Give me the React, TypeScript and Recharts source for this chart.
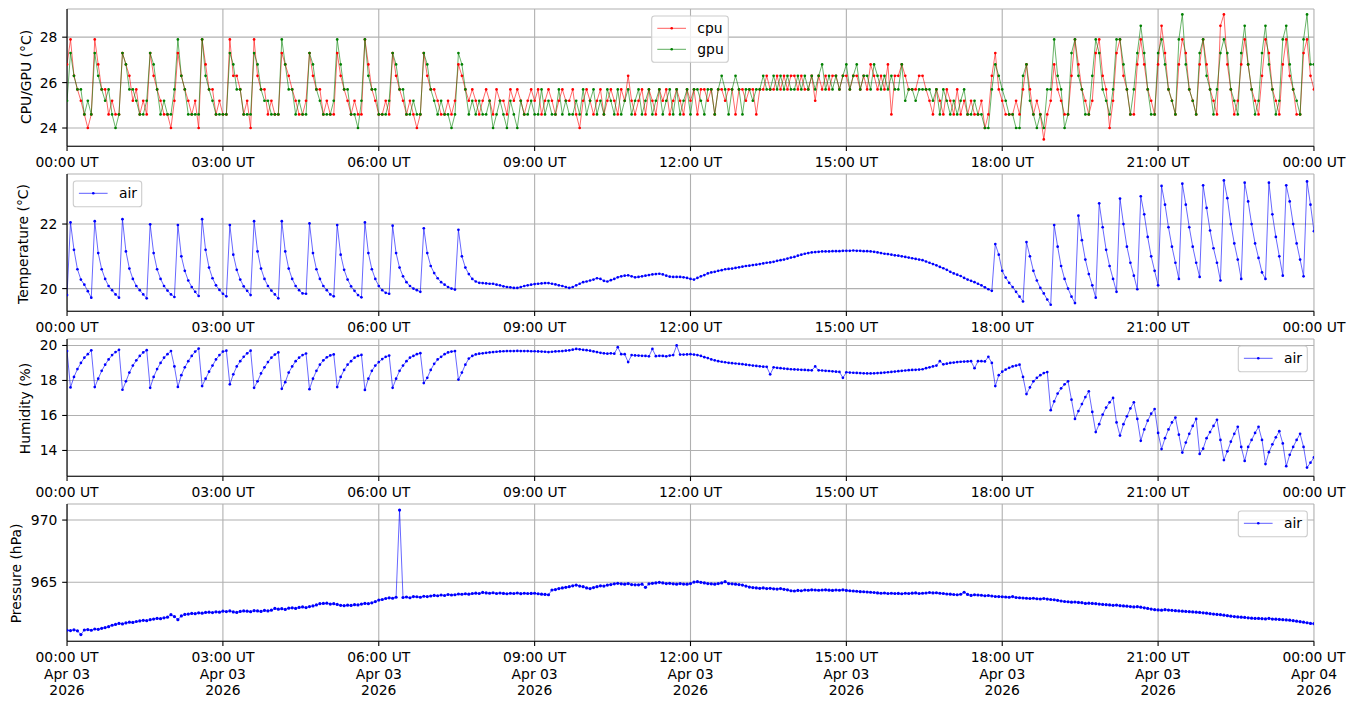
import React from 'react';
import { LineChart, Line, XAxis, YAxis, CartesianGrid } from 'recharts';

const FONT = '"DejaVu Sans", sans-serif';
const FS = 13.9;

// sampling interval of the series (minutes after 00:00 UT, Apr 03 2026)
const STEP_MIN = 4;

const X_TICKS = [0, 180, 360, 540, 720, 900, 1080, 1260, 1440];
const TIME_LABELS = ['00:00 UT', '03:00 UT', '06:00 UT', '09:00 UT', '12:00 UT', '15:00 UT', '18:00 UT', '21:00 UT', '00:00 UT'];
const DATE_LABELS = ['Apr 03', 'Apr 03', 'Apr 03', 'Apr 03', 'Apr 03', 'Apr 03', 'Apr 03', 'Apr 03', 'Apr 04'];
const YEAR_LABELS = ['2026', '2026', '2026', '2026', '2026', '2026', '2026', '2026', '2026'];

const CPU = [
  26.8, 27.9, 26.3, 25.7, 25.2, 24.6, 24.0, 24.6, 27.9, 26.8, 25.7, 25.7, 24.6, 25.2, 24.6,
  24.6, 27.3, 26.8, 26.3, 25.2, 25.7, 24.6, 25.2, 24.6, 27.3, 26.3, 25.7, 25.2, 24.6, 24.6,
  24.0, 25.2, 27.3, 26.3, 25.7, 25.2, 24.6, 25.2, 24.0, 27.9, 26.8, 25.7, 25.7, 24.6, 25.2,
  24.6, 24.6, 27.9, 26.3, 26.3, 25.7, 24.6, 25.2, 24.0, 27.9, 26.3, 25.7, 25.7, 24.6, 25.2,
  24.6, 24.6, 27.3, 26.8, 26.3, 25.7, 25.2, 24.6, 24.6, 25.2, 27.3, 26.3, 25.7, 25.7, 24.6,
  25.2, 24.6, 24.6, 27.3, 26.3, 25.7, 25.2, 24.6, 25.2, 24.6, 24.6, 27.9, 26.8, 25.7, 25.2,
  24.6, 24.6, 25.2, 24.6, 27.3, 26.3, 25.7, 25.2, 24.6, 25.2, 24.6, 24.0, 24.6, 27.3, 26.3,
  25.7, 25.7, 25.2, 24.6, 24.6, 25.2, 24.6, 25.2, 26.8, 26.3, 25.7, 25.2, 25.7, 25.2, 24.6,
  25.2, 25.7, 25.2, 24.6, 25.7, 25.2, 25.2, 24.6, 25.7, 25.2, 25.7, 25.2, 24.6, 25.2, 25.7,
  25.2, 25.7, 24.6, 25.2, 25.7, 25.2, 24.6, 25.2, 25.7, 25.2, 25.2, 25.7, 24.6, 24.0, 25.2,
  25.7, 25.2, 24.6, 25.2, 25.7, 24.6, 25.2, 25.7, 25.2, 24.6, 25.7, 25.2, 26.3, 25.2, 24.6,
  25.2, 25.7, 24.6, 25.7, 25.2, 24.6, 25.7, 25.2, 25.7, 24.6, 25.2, 25.7, 25.2, 24.6, 25.7,
  25.2, 25.7, 24.6, 25.7, 25.7, 25.2, 25.7, 24.6, 25.7, 25.7, 25.2, 25.7, 25.7, 24.6, 25.7,
  25.7, 25.2, 25.7, 25.7, 24.6, 25.7, 25.7, 26.3, 25.7, 25.7, 26.3, 25.7, 26.3, 25.7, 26.3,
  26.3, 25.7, 26.3, 25.7, 25.7, 26.3, 25.2, 26.3, 25.7, 26.3, 25.7, 26.3, 26.3, 25.7, 26.3,
  26.3, 25.7, 26.3, 26.3, 25.7, 26.3, 25.7, 26.8, 26.3, 25.7, 26.3, 25.7, 26.8, 24.6, 26.3,
  26.3, 26.8, 26.3, 25.7, 25.7, 25.7, 26.3, 26.3, 25.7, 25.2, 24.6, 25.7, 25.2, 24.6, 25.7,
  25.2, 24.6, 25.7, 24.6, 25.2, 24.6, 25.2, 24.6, 24.6, 25.2, 24.0, 24.6, 26.3, 27.3, 25.7,
  25.2, 24.6, 24.6, 24.6, 25.2, 24.6, 25.7, 26.8, 25.7, 24.6, 25.2, 24.6, 23.5, 24.6, 25.2,
  26.8, 25.7, 25.2, 24.6, 24.6, 26.3, 27.9, 26.8, 25.7, 25.2, 24.6, 25.2, 27.3, 27.9, 26.3,
  25.7, 24.0, 25.2, 27.3, 27.9, 26.3, 25.7, 24.6, 24.6, 26.8, 27.9, 26.8, 25.7, 25.2, 24.6,
  26.8, 28.5, 27.3, 25.7, 25.2, 24.6, 26.8, 27.9, 27.3, 25.7, 25.2, 24.6, 26.8, 27.9, 26.8,
  25.7, 25.2, 24.6, 28.5, 29.0, 26.8, 25.7, 24.6, 25.2, 26.8, 27.9, 26.8, 25.7, 25.2, 24.6,
  26.3, 27.9, 27.3, 25.7, 25.2, 24.6, 26.8, 27.9, 26.3, 25.7, 24.6, 24.6, 27.3, 27.9, 26.3,
  25.7,
];

const GPU = [
  25.2, 27.3, 26.3, 25.7, 25.7, 24.6, 25.2, 24.6, 27.3, 26.3, 25.7, 25.2, 25.7, 24.6, 24.0,
  24.6, 27.3, 26.8, 25.7, 25.7, 25.2, 24.6, 24.6, 25.2, 27.3, 26.8, 25.7, 24.6, 25.2, 24.6,
  24.6, 25.7, 27.9, 26.3, 25.7, 24.6, 24.6, 24.6, 24.6, 27.9, 26.3, 25.7, 25.2, 24.6, 24.6,
  24.6, 24.6, 27.3, 26.8, 25.7, 25.7, 24.6, 24.6, 24.6, 27.3, 26.8, 25.7, 25.2, 25.2, 24.6,
  24.6, 24.6, 27.9, 26.8, 25.7, 25.7, 24.6, 25.2, 24.6, 24.6, 27.3, 26.8, 25.7, 25.2, 24.6,
  24.6, 24.6, 25.2, 27.9, 26.8, 25.7, 25.7, 24.6, 24.6, 24.0, 25.2, 27.9, 26.3, 25.7, 25.7,
  24.6, 24.6, 24.6, 25.2, 27.3, 26.8, 25.7, 25.7, 24.6, 24.6, 25.2, 24.6, 24.6, 27.3, 26.8,
  25.7, 25.2, 24.6, 25.2, 24.6, 24.6, 24.0, 24.6, 27.3, 26.8, 25.7, 24.6, 25.2, 24.6, 25.2,
  24.6, 24.6, 25.2, 24.0, 24.6, 25.2, 24.6, 24.0, 25.2, 24.6, 24.0, 25.2, 24.6, 24.6, 25.2,
  24.6, 24.6, 25.7, 24.6, 25.2, 24.6, 24.6, 25.7, 24.6, 25.2, 24.6, 24.6, 25.2, 24.6, 25.7,
  24.6, 25.2, 25.7, 24.6, 25.2, 24.6, 25.7, 25.2, 24.6, 25.7, 24.6, 25.2, 25.7, 24.6, 25.2,
  25.7, 24.6, 25.2, 25.7, 24.6, 25.2, 25.7, 24.6, 25.2, 25.7, 24.6, 25.7, 24.6, 25.2, 25.7,
  24.6, 25.7, 25.7, 25.2, 24.6, 25.7, 25.7, 24.6, 25.7, 26.3, 25.7, 24.6, 25.7, 26.3, 25.7,
  24.6, 25.7, 25.7, 25.2, 25.7, 25.7, 26.3, 25.7, 25.7, 26.3, 25.7, 26.3, 25.7, 26.3, 25.7,
  25.7, 26.3, 25.7, 26.3, 25.7, 26.3, 25.7, 26.3, 26.8, 25.7, 26.3, 25.7, 26.3, 25.7, 26.3,
  26.8, 25.7, 26.3, 26.8, 25.7, 26.3, 26.3, 25.7, 26.8, 26.3, 25.7, 26.3, 25.7, 26.3, 25.7,
  25.7, 26.8, 25.2, 25.7, 25.7, 25.2, 25.7, 25.7, 25.7, 25.7, 25.2, 25.7, 24.6, 25.7, 25.2,
  24.6, 25.2, 24.6, 25.2, 25.7, 24.6, 24.6, 25.2, 24.6, 24.6, 24.0, 24.0, 25.7, 26.8, 26.3,
  25.7, 25.2, 24.6, 24.6, 24.0, 24.0, 26.3, 26.8, 25.2, 24.6, 24.0, 24.6, 24.0, 25.7, 25.7,
  27.9, 26.3, 25.7, 24.0, 24.6, 27.3, 27.9, 26.3, 25.7, 24.6, 24.6, 26.3, 27.9, 27.3, 25.7,
  25.2, 24.6, 25.7, 27.9, 27.9, 26.8, 25.7, 24.6, 25.7, 27.3, 28.5, 27.3, 25.7, 24.6, 24.6,
  27.3, 27.9, 26.8, 25.7, 25.2, 24.6, 27.9, 29.0, 26.8, 25.7, 25.2, 24.6, 27.3, 27.9, 26.3,
  25.7, 24.6, 25.7, 27.3, 27.9, 27.3, 25.7, 25.2, 24.6, 27.3, 28.5, 26.8, 25.7, 24.6, 25.2,
  27.3, 28.5, 26.8, 25.7, 24.6, 25.2, 27.9, 28.5, 26.8, 25.7, 25.2, 24.6, 27.9, 29.0, 26.8,
  26.8,
];

const AIR_TEMP = [
  19.8, 22.05, 21.2, 20.6, 20.28, 20.12, 19.92, 19.72, 22.09, 21.1, 20.6, 20.3, 20.08, 19.95, 19.82,
  19.72, 22.15, 21.15, 20.62, 20.3, 20.08, 19.95, 19.82, 19.7, 21.99, 21.1, 20.6, 20.3, 20.08, 19.94,
  19.82, 19.74, 21.97, 21.0, 20.55, 20.25, 20.05, 19.9, 19.77, 22.15, 21.2, 20.65, 20.32, 20.1, 19.96,
  19.84, 19.76, 21.97, 21.05, 20.58, 20.28, 20.07, 19.93, 19.8, 22.09, 21.15, 20.62, 20.3, 20.08, 19.94,
  19.82, 19.7, 22.09, 21.15, 20.62, 20.3, 20.08, 19.95, 19.85, 19.84, 22.02, 21.1, 20.6, 20.3, 20.08,
  19.95, 19.82, 19.76, 21.97, 21.05, 20.58, 20.28, 20.07, 19.93, 19.8, 19.73, 22.05, 21.1, 20.6, 20.3,
  20.08, 19.95, 19.87, 19.84, 21.95, 21.1, 20.65, 20.38, 20.2, 20.08, 20.0, 19.95, 19.9, 21.87, 21.1,
  20.7, 20.48, 20.32, 20.2, 20.12, 20.05, 20.0, 19.97, 21.82, 21.0, 20.65, 20.45, 20.3, 20.22, 20.18,
  20.17, 20.16, 20.15, 20.15, 20.12, 20.1, 20.07, 20.05, 20.04, 20.02, 20.02, 20.05, 20.08, 20.1, 20.12,
  20.14, 20.15, 20.16, 20.17, 20.17, 20.15, 20.13, 20.1, 20.08, 20.05, 20.02, 20.05, 20.1, 20.15, 20.2,
  20.22, 20.25, 20.28, 20.32, 20.3, 20.24, 20.22, 20.26, 20.3, 20.35, 20.38, 20.4, 20.41, 20.38, 20.35,
  20.36, 20.38, 20.4, 20.42, 20.44, 20.45, 20.46, 20.44, 20.4, 20.37, 20.36, 20.36, 20.36, 20.35, 20.33,
  20.3, 20.28, 20.33, 20.38, 20.42, 20.47, 20.5, 20.52, 20.55, 20.57, 20.6, 20.61, 20.62, 20.64, 20.66,
  20.68, 20.7, 20.71, 20.73, 20.74, 20.76, 20.78, 20.8, 20.81, 20.83, 20.86, 20.88, 20.9, 20.93, 20.96,
  20.98, 21.02, 21.05, 21.08, 21.1, 21.12, 21.13, 21.14, 21.15, 21.15, 21.15, 21.16, 21.16, 21.16, 21.17,
  21.17, 21.17, 21.18, 21.17, 21.17, 21.16, 21.16, 21.15, 21.14, 21.12, 21.1, 21.08, 21.07, 21.05, 21.03,
  21.02, 21.0, 20.98, 20.96, 20.94, 20.92, 20.9, 20.88, 20.84, 20.8, 20.76, 20.72, 20.67, 20.63, 20.58,
  20.52, 20.47, 20.43, 20.39, 20.33, 20.28, 20.24, 20.2, 20.15, 20.1, 20.04, 19.98, 19.93, 21.38, 21.05,
  20.55, 20.34, 20.18, 20.05, 19.9, 19.75, 19.6, 21.44, 21.0, 20.55, 20.25, 20.02, 19.85, 19.66, 19.5,
  21.97, 21.3, 20.7, 20.3, 20.0, 19.75, 19.55, 22.26, 21.5, 20.9, 20.45, 20.1, 19.72, 22.64, 21.9,
  21.2, 20.7, 20.3, 19.9, 22.79, 22.0, 21.3, 20.8, 20.4, 19.98, 22.86, 22.3, 21.6, 21.0, 20.55,
  20.1, 23.18, 22.6, 21.9, 21.3, 20.8, 20.3, 23.25, 22.6, 21.9, 21.3, 20.8, 20.36, 23.2, 22.5,
  21.8, 21.25, 20.8, 20.25, 23.35, 22.8, 22.0, 21.4, 20.9, 20.3, 23.28, 22.7, 22.0, 21.4, 20.95,
  20.5, 20.3, 23.28, 22.3, 21.6, 21.0, 20.4, 23.2, 22.7, 22.0, 21.4, 20.9, 20.38, 23.32, 22.6,
  21.78,
];

const AIR_HUM = [
  19.68, 17.6, 18.2, 18.65, 19.0, 19.3, 19.5, 19.72, 17.62, 18.1, 18.55, 18.9, 19.2, 19.45, 19.62,
  19.75, 17.47, 17.95, 18.45, 18.85, 19.15, 19.4, 19.6, 19.73, 17.58, 18.2, 18.65, 19.0, 19.3, 19.5,
  19.68, 18.8, 17.63, 18.3, 18.75, 19.1, 19.4, 19.65, 19.82, 17.68, 18.1, 18.5, 18.85, 19.2, 19.45,
  19.65, 19.7, 17.78, 18.35, 18.8, 19.1, 19.35, 19.55, 19.7, 17.58, 17.95, 18.4, 18.75, 19.05, 19.3,
  19.48, 19.6, 17.52, 17.9, 18.45, 18.8, 19.1, 19.3, 19.45, 19.54, 17.5, 18.1, 18.55, 18.9, 19.15,
  19.32, 19.43, 19.49, 17.62, 18.2, 18.6, 18.9, 19.1, 19.3, 19.4, 19.46, 17.46, 18.1, 18.55, 18.85,
  19.05, 19.22, 19.35, 19.42, 17.58, 18.1, 18.55, 18.85, 19.1, 19.3, 19.4, 19.5, 19.56, 17.85, 18.15,
  18.6, 18.95, 19.2, 19.35, 19.5, 19.6, 19.65, 19.68, 18.05, 18.45, 18.9, 19.25, 19.4, 19.49, 19.53,
  19.55, 19.58, 19.6, 19.62, 19.64, 19.66, 19.67, 19.68, 19.68, 19.68, 19.69, 19.68, 19.68, 19.68, 19.67,
  19.67, 19.66, 19.65, 19.64, 19.62, 19.64, 19.66, 19.67, 19.68, 19.7, 19.72, 19.76, 19.8, 19.78, 19.75,
  19.73, 19.7, 19.66, 19.62, 19.58, 19.55, 19.53, 19.55, 19.53, 19.9, 19.5, 19.5, 19.05, 19.45, 19.43,
  19.42, 19.41, 19.4, 19.38, 19.8, 19.39, 19.41, 19.4, 19.38, 19.42, 19.45, 20.0, 19.48, 19.48, 19.49,
  19.5, 19.48, 19.45, 19.4, 19.33, 19.28, 19.2, 19.15, 19.1, 19.07, 19.04, 19.01, 18.99, 18.97, 18.95,
  18.93, 18.9, 18.88, 18.85, 18.83, 18.81, 18.79, 18.78, 18.35, 18.75, 18.72, 18.7, 18.68, 18.66, 18.64,
  18.63, 18.62, 18.61, 18.6, 18.59, 18.58, 18.8, 18.58, 18.57, 18.55, 18.54, 18.52, 18.5, 18.49, 18.15,
  18.47, 18.45, 18.44, 18.43, 18.42, 18.41, 18.4, 18.4, 18.41, 18.42, 18.43, 18.45, 18.47, 18.49, 18.51,
  18.53, 18.55, 18.57, 18.59, 18.6, 18.61, 18.62, 18.64, 18.7, 18.75, 18.8, 18.85, 19.1, 18.92, 18.96,
  19.0, 19.02, 19.05, 19.07, 19.08, 19.09, 19.1, 18.7, 19.1, 19.1, 19.09, 19.35, 19.0, 17.68, 18.3,
  18.5, 18.62, 18.72, 18.8, 18.85, 18.9, 18.2, 17.22, 17.6, 17.95, 18.15, 18.3, 18.42, 18.48, 16.3,
  16.8, 17.25, 17.55, 17.78, 17.95, 16.9, 15.8, 16.25, 16.65, 17.05, 17.38, 16.2, 15.05, 15.5, 16.05,
  16.45, 16.75, 17.0, 15.6, 14.85, 15.5, 15.95, 16.4, 16.75, 15.8, 14.55, 15.2, 15.7, 16.1, 16.37,
  15.0, 14.08, 14.7, 15.2, 15.6, 15.88, 14.9, 13.88, 14.45, 14.95, 15.4, 15.8, 13.8, 14.1, 14.7,
  15.05, 15.4, 15.75, 14.6, 13.45, 13.95, 14.5, 14.95, 15.35, 14.2, 13.4, 14.2, 14.6, 15.0, 15.35,
  14.6, 13.22, 13.9, 14.35, 14.75, 15.1, 14.4, 13.1, 13.75, 14.2, 14.6, 14.95, 14.2, 13.02, 13.3,
  13.6,
];

const AIR_PRES = [
  961.15, 961.12, 961.18, 961.1, 960.8, 961.17, 961.2, 961.15, 961.25, 961.22, 961.3, 961.36, 961.44, 961.55, 961.62,
  961.7, 961.66, 961.74, 961.8, 961.78, 961.85, 961.9, 961.95, 961.92, 962.0, 962.05, 962.1, 962.08, 962.15, 962.2,
  962.4, 962.25, 962.0, 962.3, 962.42, 962.45, 962.5, 962.48, 962.55, 962.52, 962.58, 962.6, 962.57, 962.63, 962.6,
  962.68, 962.65, 962.7, 962.62, 962.58, 962.66, 962.7, 962.68, 962.64, 962.72, 962.7, 962.66, 962.74, 962.7, 962.76,
  962.9, 962.84, 962.88, 962.82, 962.92, 962.95, 962.9, 962.98, 963.02, 962.97, 963.05, 963.1, 963.18, 963.28, 963.3,
  963.32, 963.25, 963.28, 963.22, 963.15, 963.12, 963.16, 963.14, 963.2, 963.18, 963.25, 963.3, 963.28, 963.35, 963.45,
  963.57, 963.62, 963.7, 963.75, 963.72, 963.8, 970.8, 963.78, 963.82, 963.76, 963.85, 963.84, 963.8, 963.88, 963.85,
  963.9, 963.95, 963.92, 963.98, 963.94, 964.02, 963.98, 964.0, 964.06, 964.04, 964.08, 964.05, 964.1, 964.13, 964.1,
  964.19, 964.15, 964.12, 964.16, 964.1, 964.14, 964.11, 964.08, 964.12, 964.1, 964.14, 964.09, 964.12, 964.1, 964.11,
  964.12, 964.08, 964.05, 964.03, 964.0, 964.38, 964.42, 964.5, 964.55, 964.6, 964.65, 964.72, 964.78, 964.7, 964.65,
  964.55, 964.5, 964.58, 964.65, 964.72, 964.7, 964.78, 964.82, 964.88, 964.92, 964.88, 964.85, 964.9, 964.82, 964.8,
  964.8, 964.85, 964.6, 964.88, 964.92, 964.95, 965.0, 964.95, 964.9, 964.92, 964.88, 964.85, 964.9, 964.86, 964.85,
  964.9, 965.02, 965.05, 965.0, 964.95, 964.9, 964.88, 964.85, 964.9, 964.95, 965.05, 964.9, 964.88, 964.85, 964.82,
  964.78, 964.7, 964.62, 964.58, 964.55, 964.52, 964.55, 964.5, 964.52, 964.48, 964.46, 964.5, 964.44, 964.4, 964.32,
  964.3, 964.35, 964.32, 964.38, 964.36, 964.4, 964.38, 964.36, 964.38, 964.4, 964.37, 964.35, 964.38, 964.36, 964.4,
  964.35, 964.32, 964.3, 964.28, 964.25, 964.24, 964.22, 964.2, 964.18, 964.15, 964.12, 964.14, 964.1, 964.12, 964.1,
  964.11, 964.08, 964.12, 964.1, 964.13, 964.15, 964.1, 964.12, 964.14, 964.18, 964.15, 964.16, 964.12, 964.1, 964.06,
  964.05, 964.02, 964.0, 964.04, 964.2, 964.03, 963.95, 964.0, 963.98, 963.96, 963.92, 963.94, 963.9, 963.86, 963.85,
  963.84, 963.82, 963.8, 963.85, 963.78, 963.76, 963.74, 963.72, 963.7, 963.72, 963.68, 963.66, 963.7, 963.65, 963.62,
  963.6, 963.55, 963.5, 963.46, 963.44, 963.4, 963.42, 963.38, 963.36, 963.3, 963.32, 963.3, 963.28, 963.25, 963.22,
  963.2, 963.18, 963.15, 963.17, 963.12, 963.1, 963.08, 963.05, 963.02, 963.04, 963.0, 962.95, 962.9, 962.85, 962.8,
  962.78, 962.76, 962.8, 962.77, 962.75, 962.72, 962.7, 962.68, 962.66, 962.64, 962.62, 962.6, 962.58, 962.55, 962.52,
  962.48, 962.45, 962.42, 962.4, 962.36, 962.32, 962.28, 962.25, 962.22, 962.2, 962.18, 962.15, 962.12, 962.1, 962.1,
  962.08, 962.06, 962.1, 962.05, 962.04, 962.02, 962.0, 961.98, 961.96, 961.92, 961.88, 961.84, 961.8, 961.75, 961.7,
  961.68,
];

const ROWS = CPU.map((_, i) => ({
  t: i * STEP_MIN,
  cpu: CPU[i],
  gpu: GPU[i],
  temp: AIR_TEMP[i],
  hum: AIR_HUM[i],
  pres: AIR_PRES[i],
}));

const PLOT_LEFT = 67;
const PLOT_RIGHT_MARGIN = 40;
const PLOT_H = 137.2;
const TOP_PAD = 12;
const W = 1354;
const TICK_LEN = 4.86;

function XTick(props: any) {
  const { x, y, payload, withDate } = props;
  const i = X_TICKS.indexOf(payload.value);
  return (
    <text x={x} y={y} textAnchor="middle" fontSize={FS} fontFamily={FONT} fill="#000">
      <tspan x={x} dy={16}>{TIME_LABELS[i]}</tspan>
      {withDate ? <tspan x={x} dy={16.7}>{DATE_LABELS[i]}</tspan> : null}
      {withDate ? <tspan x={x} dy={16.7}>{YEAR_LABELS[i]}</tspan> : null}
    </text>
  );
}

function YTick(props: any) {
  const { x, y, payload } = props;
  return (
    <text x={x} y={y} dy={5} textAnchor="end" fontSize={FS} fontFamily={FONT} fill="#000">
      {payload.value}
    </text>
  );
}

const AXIS_STYLE = { stroke: '#000', strokeWidth: 1.1 };

function Panel(props: any) {
  const { top, xAxisH, yDomain, yTicks, withDate, children } = props;
  return (
    <div style={{ position: 'absolute', left: 0, top: top - TOP_PAD }}>
      <LineChart
        width={W}
        height={PLOT_H + xAxisH + TOP_PAD}
        data={ROWS}
        margin={{ top: TOP_PAD, right: PLOT_RIGHT_MARGIN, bottom: 0, left: 0 }}
      >
        <CartesianGrid stroke="#b0b0b0" strokeWidth={1.1} />
        <XAxis
          dataKey="t"
          type="number"
          domain={[0, 1440]}
          ticks={X_TICKS}
          interval={0}
          allowDataOverflow
          height={xAxisH}
          tickSize={TICK_LEN}
          tickMargin={0}
          tickLine={AXIS_STYLE}
          axisLine={AXIS_STYLE}
          tick={<XTick withDate={withDate} />}
        />
        <XAxis
          xAxisId="top"
          orientation="top"
          dataKey="t"
          type="number"
          domain={[0, 1440]}
          height={0}
          tick={false}
          tickLine={false}
          axisLine={AXIS_STYLE}
        />
        <YAxis
          type="number"
          domain={yDomain}
          ticks={yTicks}
          interval={0}
          allowDataOverflow
          width={PLOT_LEFT}
          tickSize={TICK_LEN}
          tickMargin={TICK_LEN}
          tickLine={AXIS_STYLE}
          axisLine={AXIS_STYLE}
          tick={<YTick />}
        />
        <YAxis
          yAxisId="right"
          orientation="right"
          type="number"
          domain={yDomain}
          width={0}
          tick={false}
          tickLine={false}
          axisLine={AXIS_STYLE}
        />
        {children}
      </LineChart>
    </div>
  );
}

function series(key: string, color: string, r: number) {
  return (
    <Line
      key={key}
      type="linear"
      dataKey={key}
      stroke={color}
      strokeWidth={0.8}
      strokeOpacity={0.75}
      dot={{ r, fill: color, stroke: 'none', strokeWidth: 0 }}
      activeDot={false}
      isAnimationActive={false}
    />
  );
}

function LegendBox(props: any) {
  const { x, y, w, items } = props;
  const h = items.length === 1 ? 25.7 : 46.3;
  return (
    <g>
      <rect x={x} y={y} width={w} height={h} rx={2.8} ry={2.8} fill="#fff" fillOpacity={0.8} stroke="#cccccc" strokeWidth={1.1} />
      {items.map((it: any, k: number) => {
        const cy = y + 12.3 + k * 21;
        return (
          <g key={it.label}>
            <line x1={x + 5.6} x2={x + 34.3} y1={cy} y2={cy} stroke={it.color} strokeWidth={0.8} strokeOpacity={0.8} />
            <circle cx={x + 20} cy={cy} r={1.3} fill={it.color} />
            <text x={x + 45.6} y={cy + 5} fontSize={FS} fontFamily={FONT} fill="#000">{it.label}</text>
          </g>
        );
      })}
    </g>
  );
}

function YLabel(props: any) {
  const { x, y, text } = props;
  return (
    <text x={x} y={y} transform={`rotate(-90 ${x} ${y})`} textAnchor="middle" fontSize={FS} fontFamily={FONT} fill="#000">
      {text}
    </text>
  );
}

export default function App() {
  return (
    <div style={{ position: 'absolute', left: 0, top: 0, width: W, height: 707, background: '#fff', overflow: 'hidden' }}>
      <Panel top={9.3} xAxisH={26} yDomain={[23.2, 29.24]} yTicks={[24, 26, 28]}>
        {series('cpu', '#ff0000', 1.35)}
        {series('gpu', '#008000', 1.35)}
      </Panel>
      <Panel top={174.3} xAxisH={26} yDomain={[19.3, 23.55]} yTicks={[20, 22]}>
        {series('temp', '#0000ff', 1.35)}
      </Panel>
      <Panel top={339.3} xAxisH={26} yDomain={[12.53, 20.37]} yTicks={[14, 16, 18, 20]}>
        {series('hum', '#0000ff', 1.35)}
      </Panel>
      <Panel top={504.3} xAxisH={62} yDomain={[960.27, 971.29]} yTicks={[965, 970]} withDate>
        {series('pres', '#0000ff', 1.6)}
      </Panel>
      <svg width={W} height={707} style={{ position: 'absolute', left: 0, top: 0, pointerEvents: 'none' }}>
        <YLabel x={30.5} y={77} text="CPU/GPU (°C)" />
        <YLabel x={27.5} y={244} text="Temperature (°C)" />
        <YLabel x={30} y={408.5} text="Humidity (%)" />
        <YLabel x={20.5} y={573.5} text="Pressure (hPa)" />
        <LegendBox x={651.7} y={16} w={76.6} items={[{ label: 'cpu', color: '#ff0000' }, { label: 'gpu', color: '#008000' }]} />
        <LegendBox x={73.3} y={181} w={68.4} items={[{ label: 'air', color: '#0000ff' }]} />
        <LegendBox x={1238.3} y={346} w={69} items={[{ label: 'air', color: '#0000ff' }]} />
        <LegendBox x={1238.3} y={511} w={69} items={[{ label: 'air', color: '#0000ff' }]} />
      </svg>
    </div>
  );
}
